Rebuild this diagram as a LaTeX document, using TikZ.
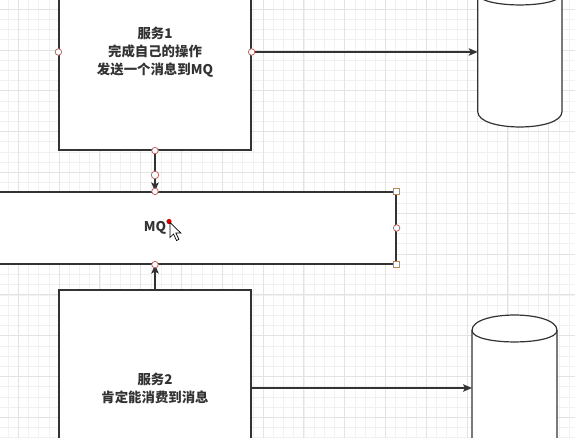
\documentclass[tikz,border=0pt]{standalone}
\usepackage{fontspec}
\newfontfamily\cjk{Noto Sans CJK SC}
\usepackage{tikz}
\usetikzlibrary{positioning}
\usetikzlibrary{arrows.meta}
\definecolor{linegray}{HTML}{333333}
\definecolor{minorgrid}{HTML}{F1F1F1}
\definecolor{majorgrid}{HTML}{E3E3E3}
\definecolor{handlered}{HTML}{C06868}
\definecolor{handleorange}{HTML}{C08848}

% cylinder: left x, top y, right x, bottom y
\newcommand{\dbcyl}[4]{%
  \path[draw=linegray, fill=white, line width=1.2pt]
    (#1,#2+15.4) .. controls (#1,#2-5.1) and (#3,#2-5.1) .. (#3,#2+15.4)
    -- (#3,#4-15.4) .. controls (#3,#4+5.1) and (#1,#4+5.1) .. (#1,#4-15.4) -- cycle;
  \draw[linegray, line width=1.2pt]
    (#1,#2+15.4) .. controls (#1,#2+30.8) and (#3,#2+30.8) .. (#3,#2+15.4);}

\begin{document}
\begin{tikzpicture}[x=1pt, y=-1pt,
    box/.style={draw=linegray, fill=white, line width=1.2pt, inner sep=0pt, align=center,
      text=linegray, font=\cjk\bfseries\fontsize{13.4}{18}\selectfont},
    link/.style={draw=linegray, line width=1.2pt, -{Stealth[length=9pt, width=7.5pt, inset=2pt]}},
    port/.style={circle, draw=handlered, fill=white, line width=0.8pt, inner sep=0pt, minimum size=6.5pt},
    corner/.style={rectangle, draw=handleorange, fill=white, line width=0.8pt, inner sep=0pt, minimum size=6.5pt}]

    \useasboundingbox (0,0) rectangle (575,438);
    \begin{scope}
        \clip (0,0) rectangle (575,438);
        \fill[white] (0,0) rectangle (575,438);

        % Grid
        \foreach \i in {0,...,56} \draw[minorgrid, line width=0.8pt] ({8.1+10.2*\i},0) -- ++(0,438);
        \foreach \i in {0,...,42} \draw[minorgrid, line width=0.8pt] (0,{9.3+10.2*\i}) -- ++(575,0);
        \foreach \i in {0,...,13} \draw[majorgrid, line width=0.9pt] ({18.3+40.8*\i},0) -- ++(0,438);
        \foreach \i in {0,...,10} \draw[majorgrid, line width=0.9pt] (0,{9.3+40.8*\i}) -- ++(575,0);

        % Nodes
        \node at (155,52) (svc1) [box, minimum width=192, minimum height=196] {服务1\\完成自己的操作\\发送一个消息到MQ};
        \node at (155,228) (mq) [box, minimum width=482, minimum height=72] {MQ};
        \node at (155,388) (svc2) [box, minimum width=192, minimum height=196] {服务2\\肯定能消费到消息};

        % Databases
        \dbcyl{477.7}{-22}{562}{127}
        \dbcyl{472}{315}{557}{520}
        \coordinate (db1) at (477.7,52);
        \coordinate (db2) at (472,388);

        % Arrows
        \draw[link] (svc1.east) -- (db1);
        \draw[link] (svc1.south) -- (mq.north);
        \draw[link] (svc2.north) -- (mq.south);
        \draw[link] (svc2.east) -- (db2);

        % Handles
        \node at (svc1.west) (h1) [port] {};
        \node at (svc1.east) (h2) [port] {};
        \node at (svc1.south) (h3) [port] {};
        \node at (155,175) (h4) [port, minimum size=7.5pt] {};
        \node at (mq.north) (h5) [port] {};
        \node at (mq.south) (h6) [port] {};
        \node at (mq.east) (h7) [port] {};
        \node at (mq.north east) (c1) [corner] {};
        \node at (mq.south east) (c2) [corner] {};

        % Pointer
        \fill[red!85!black] (169,221.5) circle (2.6pt);
        \draw[fill=white, draw=black, line width=0.7pt, line join=miter]
            (170,222.5) -- ++(0,15) -- ++(3.5,-3.5) -- ++(3,6.5) -- ++(2.4,-1.1) -- ++(-3,-6.3) -- ++(5,0) -- cycle;
    \end{scope}
\end{tikzpicture}
\end{document}
